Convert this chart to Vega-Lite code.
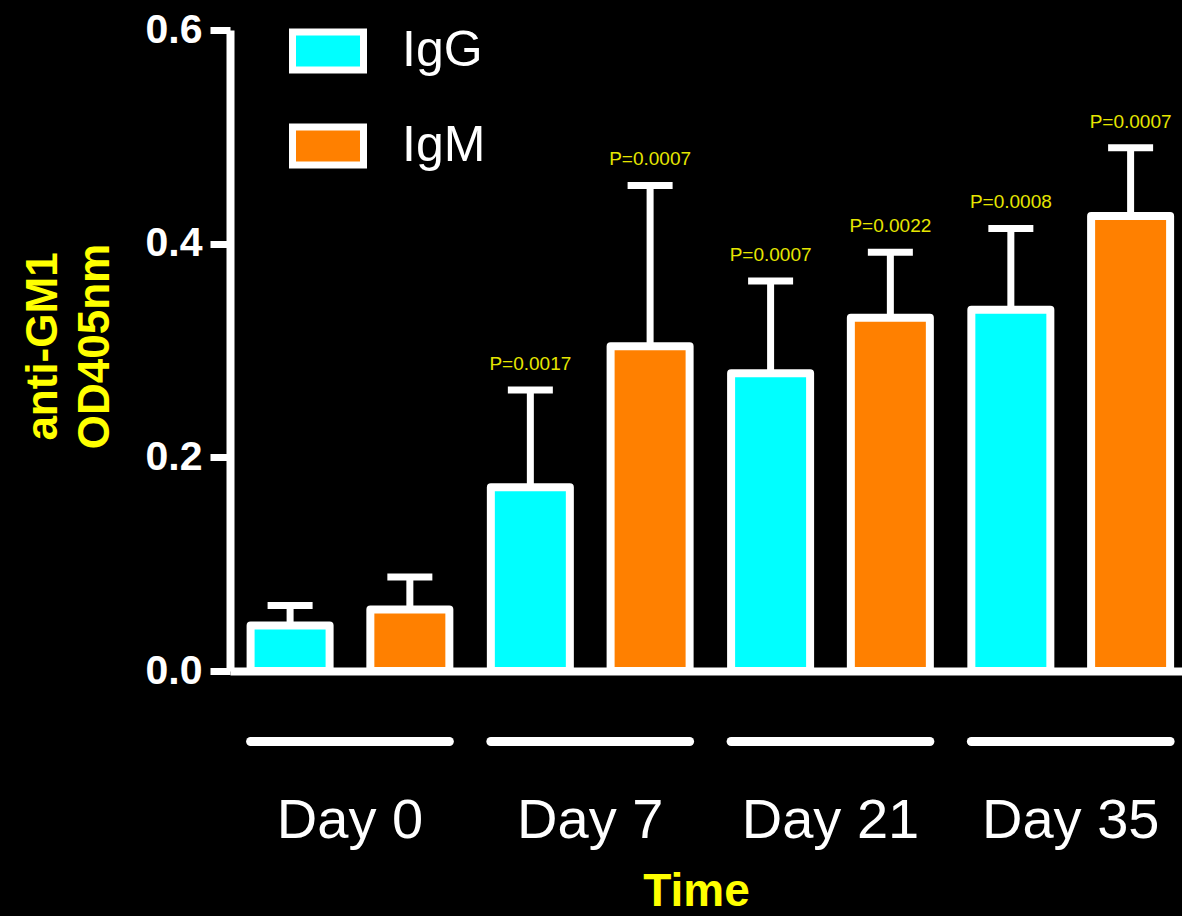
{
  "$schema": "https://vega.github.io/schema/vega-lite/v6.json",
  "width": 952,
  "height": 641,
  "autosize": {"type": "none"},
  "padding": {"left": 230, "top": 30, "right": 0, "bottom": 245},
  "background": "black",
  "config": {
    "view": {"stroke": null},
    "font": "Liberation Sans",
    "axisX": {
      "domainColor": "white", "domainWidth": 8, "ticks": false, "tickSize": 0,
      "labelColor": "white", "labelFontSize": 56, "labelFont": "Liberation Sans",
      "labelBaseline": "alphabetic", "labelPadding": 166, "labelAngle": 0,
      "titleColor": "#ffff00", "titleFontSize": 46, "titleFontWeight": "bold",
      "titleX": 466, "titleY": 234, "titleBaseline": "alphabetic", "titleAlign": "center",
      "grid": false
    },
    "axisY": {
      "domainColor": "white", "domainWidth": 8, "tickColor": "white", "tickWidth": 7, "tickSize": 20,
      "labelColor": "white", "labelFontSize": 41, "labelFontWeight": "bold", "labelPadding": 8,
      "titleColor": "#ffff00", "titleFontSize": 44, "titleFontWeight": "bold", "titleLineHeight": 52,
      "titleX": -187, "titleY": 316, "titleBaseline": "middle", "titleAlign": "center", "titleAngle": 270,
      "grid": false
    }
  },
  "data": {
    "values": [
      {"day": "Day 0", "iso": "IgG", "mean": 0.0426, "upper": 0.0614, "p": null},
      {"day": "Day 0", "iso": "IgM", "mean": 0.0576, "upper": 0.0879, "p": null},
      {"day": "Day 7", "iso": "IgG", "mean": 0.172, "upper": 0.263, "p": "P=0.0017"},
      {"day": "Day 7", "iso": "IgM", "mean": 0.304, "upper": 0.4545, "p": "P=0.0007"},
      {"day": "Day 21", "iso": "IgG", "mean": 0.2787, "upper": 0.365, "p": "P=0.0007"},
      {"day": "Day 21", "iso": "IgM", "mean": 0.3307, "upper": 0.392, "p": "P=0.0022"},
      {"day": "Day 35", "iso": "IgG", "mean": 0.3382, "upper": 0.4142, "p": "P=0.0008"},
      {"day": "Day 35", "iso": "IgM", "mean": 0.4258, "upper": 0.4897, "p": "P=0.0007"}
    ]
  },
  "encoding": {
    "x": {
      "field": "day", "type": "nominal", "sort": ["Day 0", "Day 7", "Day 21", "Day 35"],
      "scale": {"paddingInner": 0.1727, "paddingOuter": 0.0676, "align": 0.634, "round": false},
      "title": "Time"
    },
    "xOffset": {
      "field": "iso", "type": "nominal", "sort": ["IgG", "IgM"],
      "scale": {"paddingInner": 0.3403, "paddingOuter": 0, "round": false}
    },
    "y": {
      "field": "mean", "type": "quantitative",
      "scale": {"domain": [0, 0.6], "nice": false, "zero": true},
      "axis": {"values": [0, 0.2, 0.4, 0.6], "format": ".1f"},
      "title": ["anti-GM1", "OD405nm"]
    }
  },
  "layer": [
    {
      "mark": {"type": "rule", "color": "white", "strokeWidth": 7},
      "encoding": {"y2": {"field": "upper"}}
    },
    {
      "mark": {"type": "bar", "stroke": "white", "strokeWidth": 8, "strokeJoin": "round"},
      "encoding": {
        "color": {
          "field": "iso", "type": "nominal",
          "scale": {"domain": ["IgG", "IgM"], "range": ["#00ffff", "#ff8000"]},
          "legend": {
            "title": null, "orient": "none", "legendX": 59, "legendY": -18,
            "symbolType": "M-1,-0.535H1V0.535H-1Z", "symbolSize": 5041,
            "symbolStrokeColor": "white", "symbolStrokeWidth": 7, "symbolOpacity": 1,
            "labelFont": "Liberation Sans", "labelFontSize": 50, "labelColor": "white",
            "labelOffset": 35, "rowPadding": 23, "padding": 0
          }
        }
      }
    },
    {
      "mark": {"type": "tick", "color": "white", "size": 45, "thickness": 7, "orient": "horizontal", "opacity": 1},
      "encoding": {"y": {"field": "upper", "type": "quantitative"}}
    },
    {
      "transform": [{"filter": "isValid(datum.p)"}],
      "mark": {"type": "text", "fontSize": 19, "color": "#e6e600", "baseline": "alphabetic", "dy": -20, "font": "Liberation Sans"},
      "encoding": {
        "y": {"field": "upper", "type": "quantitative"},
        "text": {"field": "p"}
      }
    },
    {
      "transform": [{"filter": "datum.iso == 'IgG'"}],
      "mark": {"type": "rule", "color": "white", "strokeWidth": 9, "strokeCap": "round"},
      "encoding": {
        "x": {
          "field": "day", "type": "nominal", "sort": ["Day 0", "Day 7", "Day 21", "Day 35"],
          "bandPosition": 0, "title": "Time"
        },
        "x2": {"field": "day", "bandPosition": 1},
        "xOffset": null,
        "y": {"datum": -0.066, "type": "quantitative"}
      }
    }
  ]
}
